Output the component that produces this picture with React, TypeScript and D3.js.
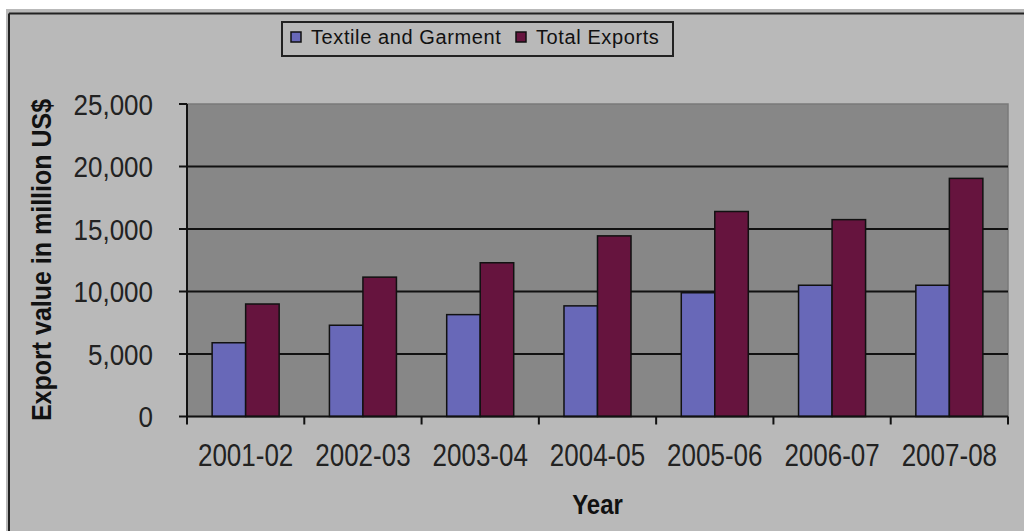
import React from "react";
import * as d3 from "d3";

const categories = ["2001-02", "2002-03", "2003-04", "2004-05", "2005-06", "2006-07", "2007-08"];
const textileValues = [5900, 7300, 8150, 8850, 9900, 10500, 10500];
const totalValues = [9000, 11150, 12300, 14450, 16400, 15750, 19050];
const seriesNames = ["Textile and Garment", "Total Exports"];
const seriesColors = ["#6868b8", "#66143e"];
const yTicks = [0, 5000, 10000, 15000, 20000, 25000];

const W = 1024;
const H = 531;
const plot = { left: 187, right: 1008, top: 104, bottom: 416.5 };
const FONT = "'Liberation Sans', Arial, sans-serif";

export default function App() {
  const x = d3.scaleBand<string>().domain(categories).range([plot.left, plot.right]).padding(0);
  const xs = d3
    .scaleBand<string>()
    .domain(seriesNames)
    .range([0, x.bandwidth()])
    .paddingInner(0)
    .paddingOuter(0.75);
  const y = d3.scaleLinear().domain([0, 25000]).range([plot.bottom, plot.top]);
  const fmt = d3.format(",");
  const series = [textileValues, totalValues];
  const boundaries = [...categories.map((c) => x(c) as number), plot.right];

  return (
    <div style={{ position: "absolute", left: 0, top: 0, width: W, height: H }}>
      <svg width={W} height={H} style={{ display: "block" }}>
        <rect x={0} y={0} width={W} height={H} fill="#ffffff" />
        <rect x={6} y={9} width={W} height={H} fill="#b9b9b9" />
        <line x1={9} x2={W} y1={13.5} y2={13.5} stroke="#222" strokeWidth={2} />
        <line x1={9} x2={9} y1={13.5} y2={H} stroke="#222" strokeWidth={2} />

        {/* Legend */}
        <rect x={282} y={22} width={391} height={34} fill="#b9b9b9" stroke="#222" strokeWidth={2} />
        {seriesNames.map((s, i) => {
          const lx = i === 0 ? 291 : 516;
          return (
            <g key={s}>
              <rect x={lx} y={32} width={10} height={10} fill={seriesColors[i]} stroke="#111" strokeWidth={1.5} />
              <text
                x={lx + 20}
                y={44}
                fontFamily={FONT}
                fontSize={20}
                letterSpacing={0.6}
                fill="#111"
              >
                {s}
              </text>
            </g>
          );
        })}

        {/* Plot area */}
        <rect
          x={plot.left}
          y={plot.top}
          width={plot.right - plot.left}
          height={plot.bottom - plot.top}
          fill="#878787"
          stroke="#7a7a7a"
          strokeWidth={1.5}
        />
        {yTicks
          .filter((t) => t > 0 && t < 25000)
          .map((t) => (
            <line key={t} x1={plot.left} x2={plot.right} y1={y(t)} y2={y(t)} stroke="#111" strokeWidth={2} />
          ))}

        {/* Bars */}
        {categories.map((c, ci) =>
          series.map((vals, si) => (
            <rect
              key={c + si}
              x={(x(c) as number) + (xs(seriesNames[si]) as number)}
              y={y(vals[ci])}
              width={xs.bandwidth()}
              height={plot.bottom - y(vals[ci])}
              fill={seriesColors[si]}
              stroke="#111"
              strokeWidth={1.5}
            />
          ))
        )}

        {/* Axes */}
        <line x1={plot.left} x2={plot.left} y1={plot.top} y2={plot.bottom} stroke="#111" strokeWidth={2} />
        <line x1={plot.left} x2={plot.right} y1={plot.bottom} y2={plot.bottom} stroke="#111" strokeWidth={2} />
        {yTicks.map((t) => (
          <g key={t}>
            <line x1={plot.left - 8} x2={plot.left} y1={y(t)} y2={y(t)} stroke="#111" strokeWidth={2} />
            <text
              transform={`translate(153, ${y(t) + 10.5}) scale(1, 1.15)`}
              textAnchor="end"
              fontFamily={FONT}
              fontSize={26}
              fill="#222"
            >
              {fmt(t)}
            </text>
          </g>
        ))}
        {boundaries.map((b, i) => (
          <line key={i} x1={b} x2={b} y1={plot.bottom} y2={plot.bottom + 8} stroke="#111" strokeWidth={2} />
        ))}
        {categories.map((c) => (
          <text
            key={c}
            transform={`translate(${(x(c) as number) + x.bandwidth() / 2}, 466) scale(1, 1.18)`}
            textAnchor="middle"
            fontFamily={FONT}
            fontSize={26}
            fill="#222"
          >
            {c}
          </text>
        ))}

        {/* Axis titles */}
        <text
          transform={`translate(${(plot.left + plot.right) / 2}, 514) scale(1, 1.15)`}
          textAnchor="middle"
          fontFamily={FONT}
          fontSize={24}
          fontWeight="bold"
          fill="#111"
        >
          Year
        </text>
        <text
          transform={`translate(51, 260) rotate(-90) scale(1, 1.1)`}
          textAnchor="middle"
          fontFamily={FONT}
          fontSize={25}
          fontWeight="bold"
          fill="#111"
        >
          Export value in million US$
        </text>
      </svg>
    </div>
  );
}
